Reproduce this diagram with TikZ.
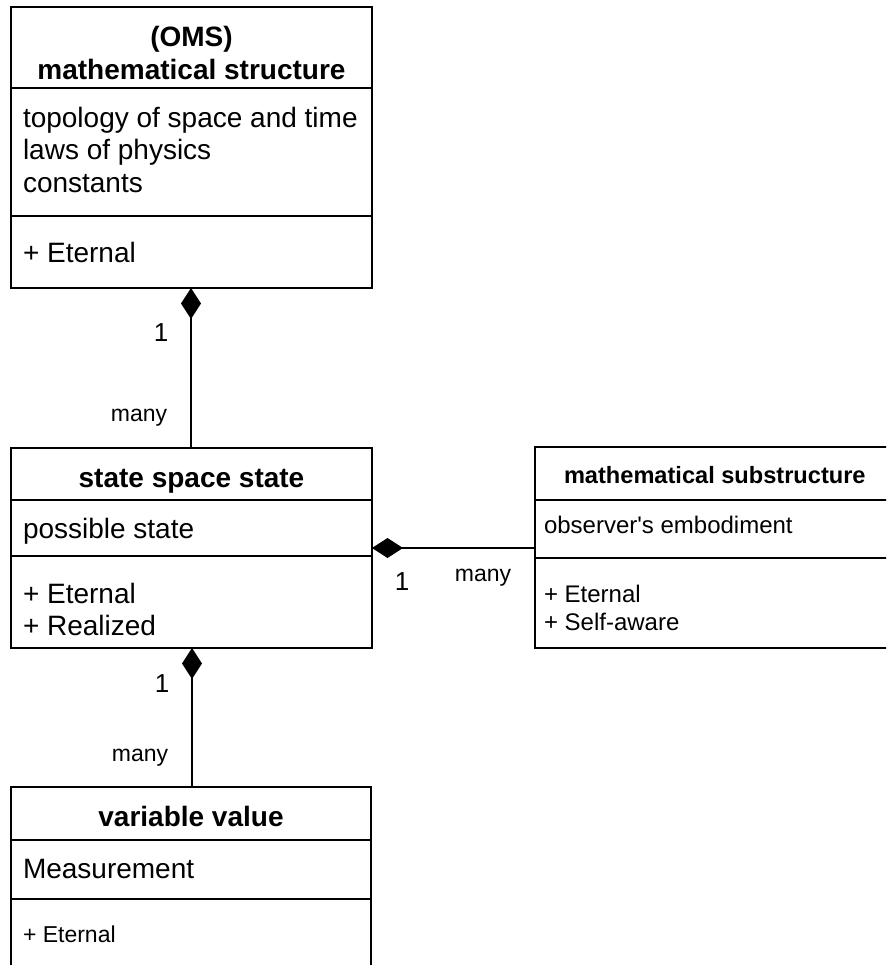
\documentclass[tikz,border=0pt]{standalone}
\usepackage{fontspec}
\setmainfont{Liberation Sans}[Ligatures=TeXOff]
\usetikzlibrary{arrows.meta}
\begin{document}
\begin{tikzpicture}[x=1pt,y=-1pt,line width=2pt,
  umlbox/.style={draw, rectangle, anchor=north west, inner sep=0pt, outer sep=0pt},
  big/.style={inner sep=0pt, font=\fontsize{28}{33}\selectfont},
  small/.style={inner sep=0pt, font=\fontsize{24}{28}\selectfont},
  lbl/.style={inner sep=0pt, font=\fontsize{23}{27}\selectfont},
  one/.style={inner sep=0pt, font=\fontsize{26}{30}\selectfont},
  comp/.style={{Diamond[length=31pt,width=20pt]}-}]
\useasboundingbox (0,0) rectangle (886,965);
\clip (0,0) rectangle (886,965);
% boxes
\node[umlbox, minimum width=361pt, minimum height=281pt] (oms) at (11,7) {};
\node[umlbox, minimum width=361pt, minimum height=200pt] (sss) at (11,448) {};
\node[umlbox, minimum width=362pt, minimum height=201pt] (sub) at (535,447) {};
\node[umlbox, minimum width=360pt, minimum height=220pt] (var) at (11,787) {};
% separators
\coordinate (y1) at (0,88);
\coordinate (y2) at (0,216);
\draw (oms.west |- y1) -- (oms.east |- y1);
\draw (oms.west |- y2) -- (oms.east |- y2);
\coordinate (y3) at (0,500);
\coordinate (y4) at (0,556);
\draw (sss.west |- y3) -- (sss.east |- y3);
\draw (sss.west |- y4) -- (sss.east |- y4);
\coordinate (y5) at (0,558);
\draw (sub.west |- y3) -- (sub.east |- y3);
\draw (sub.west |- y5) -- (sub.east |- y5);
\coordinate (y6) at (0,840);
\coordinate (y7) at (0,899);
\draw (var.west |- y6) -- (var.east |- y6);
\draw (var.west |- y7) -- (var.east |- y7);
% texts: OMS
\node[big, anchor=base] (t1) at (191.5,47) {\textbf{(OMS)}};
\node[big, anchor=base] (t2) at (191.5,80) {\textbf{mathematical structure}};
\node[big, anchor=base west] (a1) at (22,128) {topology of space and time};
\node[big, anchor=base west] (a2) at (22,160) {laws of physics};
\node[big, anchor=base west] (a3) at (22,193) {constants};
\node[big, anchor=base west] (m1) at (22,262) {+ Eternal};
% state space state
\node[big, anchor=base] (t3) at (191.5,487) {\textbf{state space state}};
\node[big, anchor=base west] (a4) at (22,538) {possible state};
\node[big, anchor=base west] (m2) at (22,603) {+ Eternal};
\node[big, anchor=base west] (m3) at (22,635) {+ Realized};
% substructure
\node[inner sep=0pt, font=\fontsize{23.6}{28}\selectfont, anchor=base west] (t4) at (563,483) {\textbf{mathematical substructure}};
\node[small, anchor=base west] (a5) at (543,533) {observer's embodiment};
\node[small, anchor=base west] (m4) at (543,602) {+ Eternal};
\node[small, anchor=base west] (m5) at (543,630) {+ Self-aware};
% variable value
\node[big, anchor=base] (t5) at (191,826) {\textbf{variable value}};
\node[big, anchor=base west] (a6) at (22,878) {Measurement};
\node[lbl, anchor=base west] (m6) at (22,942) {+ Eternal};
% connectors
\coordinate (hy) at (0,548);
\draw[comp] (oms.south -| 191,0) -- (sss.north -| 191,0);
\draw[comp] (sss.east |- hy) -- (sub.west |- hy);
\draw[comp] (sss.south -| 192,0) -- (var.north -| 192,0);
% multiplicities
\node[one] (n1) at (161,333) {1};
\node[lbl] (n2) at (139,418) {many};
\node[one] (n3) at (402,582) {1};
\node[lbl] (n4) at (483,578) {many};
\node[one] (n5) at (162,684) {1};
\node[lbl] (n6) at (140,758) {many};
\end{tikzpicture}
\end{document}
